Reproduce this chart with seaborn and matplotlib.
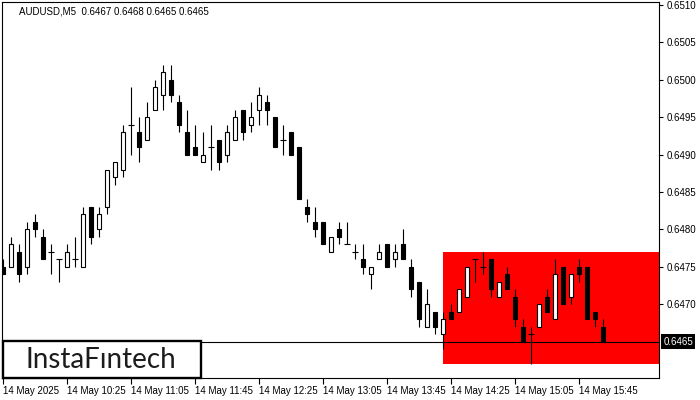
import matplotlib
matplotlib.use("Agg")
import matplotlib.pyplot as plt
import matplotlib.transforms as mtransforms
from matplotlib.patches import Rectangle
import seaborn as sns
import numpy as np
import pandas as pd

# ---------------- data ----------------
symbol_title = "AUDUSD,M5  0.6467 0.6468 0.6465 0.6465"

opens = [0.6475, 0.6475, 0.6477, 0.6475, 0.6481, 0.6479, 0.6477, 0.6476, 0.6475, 0.6476,
         0.6475, 0.6483, 0.6480, 0.6483, 0.6487, 0.6488, 0.6494, 0.6493, 0.6492, 0.6496,
         0.6498, 0.6500, 0.6497, 0.6493, 0.6491, 0.6489, 0.6491, 0.6492, 0.6490, 0.6492,
         0.6496, 0.6494, 0.6496, 0.6497, 0.6495, 0.6492, 0.6493, 0.6491, 0.6483, 0.6481,
         0.6481, 0.6477, 0.6480, 0.6478, 0.6477, 0.6476, 0.6474, 0.6476, 0.6478, 0.6476,
         0.6478, 0.6475, 0.6473, 0.6467, 0.6469, 0.6466, 0.6469, 0.6469, 0.6471, 0.6476,
         0.6475, 0.6476, 0.6471, 0.6474, 0.6471, 0.6467, 0.6466, 0.6467, 0.6471, 0.6468,
         0.6475, 0.6471, 0.6475, 0.6475, 0.6469, 0.6467]
highs = [0.6476, 0.6479, 0.6478, 0.6481, 0.6482, 0.6480, 0.6478, 0.6476, 0.6478, 0.6479,
         0.6483, 0.6483, 0.6483, 0.6488, 0.6489, 0.6494, 0.6499, 0.6495, 0.6497, 0.6500,
         0.6502, 0.6502, 0.6498, 0.6496, 0.6494, 0.6493, 0.6494, 0.6492, 0.6494, 0.6496,
         0.6496, 0.6497, 0.6499, 0.6498, 0.6495, 0.6494, 0.6493, 0.6491, 0.6484, 0.6483,
         0.6481, 0.6479, 0.6481, 0.6481, 0.6478, 0.6478, 0.6475, 0.6478, 0.6478, 0.6478,
         0.6480, 0.6476, 0.6473, 0.6472, 0.6469, 0.6469, 0.6470, 0.6472, 0.6475, 0.6476,
         0.6477, 0.6476, 0.6473, 0.6475, 0.6472, 0.6468, 0.6467, 0.6470, 0.6472, 0.6476,
         0.6475, 0.6474, 0.6476, 0.6475, 0.6469, 0.6468]
lows = [0.6474, 0.6475, 0.6473, 0.6474, 0.6479, 0.6476, 0.6474, 0.6473, 0.6475, 0.6475,
        0.6475, 0.6478, 0.6479, 0.6482, 0.6486, 0.6487, 0.6490, 0.6489, 0.6492, 0.6496,
        0.6496, 0.6497, 0.6493, 0.6490, 0.6490, 0.6489, 0.6488, 0.6488, 0.6489, 0.6492,
        0.6492, 0.6493, 0.6494, 0.6494, 0.6491, 0.6490, 0.6490, 0.6484, 0.6481, 0.6479,
        0.6478, 0.6477, 0.6478, 0.6478, 0.6476, 0.6474, 0.6472, 0.6476, 0.6475, 0.6475,
        0.6476, 0.6471, 0.6467, 0.6467, 0.6466, 0.6464, 0.6468, 0.6469, 0.6471, 0.6473,
        0.6474, 0.6471, 0.6471, 0.6472, 0.6467, 0.6465, 0.6462, 0.6467, 0.6469, 0.6468,
        0.6470, 0.6470, 0.6473, 0.6468, 0.6467, 0.6465]
closes = [0.6474, 0.6478, 0.6474, 0.6480, 0.6480, 0.6476, 0.6477, 0.6476, 0.6477, 0.6476,
          0.6482, 0.6479, 0.6482, 0.6488, 0.6489, 0.6493, 0.6494, 0.6491, 0.6495, 0.6499,
          0.6501, 0.6498, 0.6494, 0.6490, 0.6490, 0.6490, 0.6491, 0.6489, 0.6493, 0.6495,
          0.6493, 0.6495, 0.6498, 0.6496, 0.6491, 0.6492, 0.6490, 0.6484, 0.6482, 0.6480,
          0.6478, 0.6479, 0.6479, 0.6478, 0.6477, 0.6475, 0.6475, 0.6477, 0.6475, 0.6477,
          0.6476, 0.6472, 0.6468, 0.6470, 0.6467, 0.6468, 0.6468, 0.6472, 0.6475, 0.6476,
          0.6475, 0.6472, 0.6473, 0.6472, 0.6468, 0.6465, 0.6466, 0.6470, 0.6469, 0.6474,
          0.6470, 0.6474, 0.6474, 0.6468, 0.6468, 0.6465]

x_tick_bars = [0, 8, 16, 24, 32, 40, 48, 56, 64, 72]
x_tick_labels = ["14 May 2025", "14 May 10:25", "14 May 11:05", "14 May 11:45",
                 "14 May 12:25", "14 May 13:05", "14 May 13:45", "14 May 14:25",
                 "14 May 15:05", "14 May 15:45"]
y_ticks = [0.6470, 0.6475, 0.6480, 0.6485, 0.6490, 0.6495, 0.6500, 0.6505, 0.6510]
current_price = 0.6465
zone_start_bar = 55
zone_low = 0.6462
zone_high = 0.6477
logo_text = "InstaFıntech"

# ---------------- style ----------------
sns.set_theme(style="white")
plt.rcParams["font.family"] = ["Liberation Sans", "DejaVu Sans"]

df = pd.DataFrame({"open": opens, "high": highs, "low": lows, "close": closes})
df["bar"] = np.arange(len(df))
df["body_bottom"] = df[["open", "close"]].min(axis=1)
df["body_height"] = (df["close"] - df["open"]).abs()
df["bull"] = df["close"] > df["open"]
df["doji"] = df["body_height"] < 1e-7

W, H = 700, 400
fig = plt.figure(figsize=(W / 100, H / 100), dpi=100)
ax = fig.add_axes([2 / W, 22 / H, 657 / W, 376 / H])
x_max = 82.0
ax.set_xlim(-0.125, x_max)
ax.set_ylim(0.646013, 0.65104)
ax.set_facecolor("white")

# pattern zone
ax.add_patch(Rectangle((zone_start_bar, zone_low), x_max - zone_start_bar + 1,
                       zone_high - zone_low, facecolor="#ff0000", edgecolor="none", zorder=1))

lw = 0.8
# wicks
ax.vlines(df["bar"], df["low"], df["high"], color="black", linewidth=lw, zorder=2)
# bodies
body = df[~df["doji"]]
ax.bar(body["bar"], body["body_height"], bottom=body["body_bottom"], width=0.62,
       color=np.where(body["bull"], "white", "black"), edgecolor="black",
       linewidth=lw, zorder=3)
# doji
dj = df[df["doji"]]
ax.hlines(dj["close"], dj["bar"] - 0.35, dj["bar"] + 0.35, color="black",
          linewidth=lw, zorder=3)

# current price line
ax.axhline(current_price, color="black", linewidth=lw, zorder=4)

for s in ax.spines.values():
    s.set_color("black")
    s.set_linewidth(lw)
    s.set_visible(True)

ax.yaxis.tick_right()
ax.set_yticks(y_ticks)
ax.set_yticklabels([f"{v:.4f}" for v in y_ticks])
ax.set_xticks(x_tick_bars)
ax.set_xticklabels(x_tick_labels, ha="left")
ax.tick_params(axis="y", right=True, left=False, direction="out", length=3,
               width=lw, pad=2.5, labelsize=7, colors="black")
ax.tick_params(axis="x", bottom=True, direction="out", length=4, width=lw,
               pad=2, labelsize=7, colors="black")
ax.grid(False)

# current price label
trans = mtransforms.blended_transform_factory(ax.transAxes, ax.transData)
ax.text(1.0065, current_price, f"{current_price:.4f}", transform=trans, ha="left",
        va="center", color="white", fontsize=7, clip_on=False, zorder=6,
        bbox=dict(boxstyle="square,pad=0.25", facecolor="black", edgecolor="none"))

# title
fig.text(19 / W, 1 - 12 / H, symbol_title, fontsize=7, ha="left", va="center", color="black")

# logo box
logo = Rectangle((3 / W, 22 / H), 198 / W, 37 / H, transform=fig.transFigure,
                 facecolor="white", edgecolor="black", linewidth=1.7, zorder=10)
fig.add_artist(logo)
fig.text(101 / W, 1 - 368 / H, logo_text, fontsize=20, family=["Lato", "DejaVu Sans"],
         ha="center", va="baseline", color="#1c1c1c", zorder=11)

fig.savefig("out.png", dpi=100)
